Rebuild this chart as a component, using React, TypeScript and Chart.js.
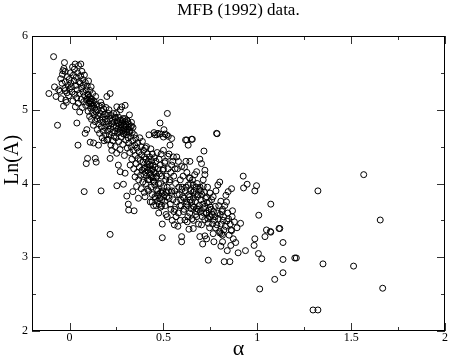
import React, { useEffect, useRef } from 'react';
import { Chart, registerables } from 'chart.js';

Chart.register(...registerables);

const chartTitle = 'MFB (1992) data.';
const xAxisTitle = 'α';
const yAxisTitle = 'Ln(A)';
const xMajorTicks = [0, 0.5, 1, 1.5, 2];
const xMinorTicks = [0.25, 0.75, 1.25, 1.75];
const yMajorTicks = [2, 3, 4, 5, 6];
const yMinorTicks = [2.5, 3.5, 4.5, 5.5];
const xMin = -0.2;
const xMax = 2;
const yMin = 2;
const yMax = 6;

// [alpha, Ln(A)] pairs
const bandLeft: [number, number][] = [
  [-0.110, 5.22], [-0.085, 5.72], [-0.080, 5.31], [-0.072, 5.18], [-0.064, 4.79], [-0.058, 5.27], [-0.050, 5.25],
  [-0.047, 5.42], [-0.045, 5.15], [-0.040, 5.36], [-0.038, 5.48], [-0.035, 5.53], [-0.032, 5.05], [-0.030, 5.56],
  [-0.027, 5.64], [-0.025, 5.29], [-0.023, 5.52], [-0.023, 5.26], [-0.022, 5.38], [-0.020, 5.13], [-0.017, 5.10],
  [-0.014, 5.23], [-0.012, 5.45], [-0.008, 5.33], [-0.005, 5.19], [-0.002, 5.41], [0.000, 5.28], [0.004, 5.50],
  [0.007, 5.36], [0.010, 5.31], [0.013, 5.24], [0.016, 5.58], [0.018, 5.12], [0.021, 5.47], [0.024, 5.39],
  [0.026, 5.55], [0.028, 5.21], [0.030, 5.62], [0.031, 5.04], [0.033, 5.33], [0.036, 5.44], [0.038, 5.16],
  [0.039, 4.82], [0.041, 5.27], [0.043, 5.50], [0.045, 4.52], [0.046, 5.09], [0.048, 5.60], [0.050, 5.38],
  [0.052, 5.22], [0.054, 4.97], [0.057, 5.36], [0.059, 5.46], [0.060, 5.62], [0.062, 5.14], [0.064, 5.29],
  [0.066, 5.52], [0.068, 5.03], [0.070, 5.41], [0.072, 5.24], [0.074, 5.33], [0.076, 5.11], [0.078, 3.89],
  [0.079, 5.47], [0.081, 5.19], [0.083, 4.68], [0.084, 5.37], [0.086, 5.06], [0.088, 5.27], [0.089, 4.27],
  [0.091, 5.14], [0.092, 4.73], [0.094, 5.32], [0.096, 4.34], [0.097, 5.21], [0.099, 4.98], [0.101, 5.39],
  [0.103, 5.09], [0.105, 5.17], [0.107, 4.91], [0.109, 5.26], [0.110, 4.56], [0.111, 5.11], [0.113, 5.02],
  [0.115, 5.31], [0.117, 4.87], [0.119, 5.14], [0.121, 4.96], [0.123, 5.22], [0.125, 5.06], [0.127, 4.79],
  [0.128, 4.55], [0.130, 5.12], [0.132, 4.93], [0.134, 5.02], [0.136, 4.84], [0.137, 4.34], [0.139, 5.18],
  [0.141, 4.97], [0.142, 4.29], [0.144, 5.07], [0.146, 4.88], [0.148, 4.73], [0.150, 5.00], [0.152, 4.92],
  [0.154, 4.52], [0.156, 4.81], [0.158, 5.05], [0.160, 4.68], [0.162, 4.95], [0.164, 4.86], [0.166, 5.10],
  [0.168, 3.90], [0.169, 4.77], [0.171, 4.99], [0.172, 5.06], [0.174, 4.62], [0.176, 4.90], [0.178, 4.83],
  [0.180, 4.71], [0.182, 5.01], [0.184, 4.58], [0.186, 4.94], [0.188, 4.76], [0.190, 4.87], [0.192, 4.66],
  [0.194, 5.03], [0.196, 4.80], [0.198, 4.92], [0.199, 4.59], [0.199, 5.18],
  [0.108, 5.12], [0.112, 5.08], [0.114, 5.15], [0.118, 5.05], [0.122, 5.10], [0.095, 5.15], [0.100, 5.20],
];

const bandUpperMid: [number, number][] = [
  [0.201, 4.84], [0.203, 4.71], [0.205, 4.60], [0.207, 4.95], [0.209, 4.78], [0.210, 5.00], [0.212, 4.66],
  [0.214, 4.88], [0.216, 5.22], [0.216, 4.34], [0.216, 3.31], [0.218, 4.74], [0.220, 4.52], [0.222, 4.92],
  [0.224, 4.81], [0.225, 4.45], [0.227, 4.69], [0.229, 4.86], [0.231, 4.58], [0.233, 4.77], [0.235, 4.95],
  [0.237, 4.64], [0.239, 4.83], [0.241, 4.71], [0.243, 4.50], [0.245, 4.89], [0.247, 4.62], [0.249, 4.78],
  [0.251, 4.41], [0.252, 5.04], [0.252, 3.97], [0.254, 4.85], [0.256, 4.68], [0.258, 4.74], [0.260, 4.25],
  [0.261, 4.90], [0.263, 4.57], [0.265, 4.80], [0.267, 4.70], [0.269, 4.46], [0.270, 5.00], [0.270, 4.16],
  [0.272, 4.86], [0.274, 4.76], [0.276, 4.63], [0.278, 5.04], [0.279, 4.82], [0.281, 4.72], [0.283, 4.53],
  [0.285, 4.88], [0.287, 3.99], [0.288, 4.67], [0.290, 4.79], [0.292, 4.38], [0.294, 4.84], [0.296, 5.06],
  [0.296, 4.14], [0.297, 4.71], [0.299, 4.59], [0.301, 4.80], [0.303, 4.66], [0.305, 3.83], [0.306, 4.86],
  [0.308, 4.48], [0.310, 4.74], [0.312, 4.62], [0.313, 3.72], [0.314, 4.81], [0.315, 3.64], [0.316, 4.55],
  [0.318, 4.70], [0.319, 4.93], [0.321, 4.42], [0.323, 4.25], [0.324, 4.77], [0.326, 4.64], [0.328, 4.50],
  [0.330, 4.83], [0.332, 4.33], [0.334, 4.69], [0.336, 4.58], [0.337, 3.89], [0.338, 4.76], [0.340, 4.45],
  [0.342, 4.20], [0.344, 3.63], [0.345, 4.66], [0.347, 4.52], [0.349, 4.09], [0.351, 4.38], [0.353, 4.61],
  [0.355, 4.27], [0.357, 3.96], [0.359, 4.48], [0.361, 4.15], [0.363, 4.55], [0.365, 4.34], [0.367, 3.80],
  [0.368, 4.05], [0.370, 4.43], [0.372, 4.22], [0.374, 4.62], [0.376, 4.31], [0.378, 4.11], [0.380, 4.50],
  [0.382, 3.93], [0.384, 4.39], [0.386, 4.18], [0.388, 4.57], [0.390, 4.02], [0.392, 4.29], [0.394, 4.45],
  [0.396, 4.12], [0.398, 3.88], [0.399, 4.36],
  [0.275, 4.79], [0.282, 4.85], [0.290, 4.74], [0.300, 4.77], [0.310, 4.84], [0.320, 4.72], [0.330, 4.78],
  [0.285, 4.68], [0.295, 4.88], [0.305, 4.70], [0.315, 4.76], [0.270, 4.72], [0.260, 4.82], [0.250, 4.95],
  [0.240, 4.90],
];

const bandLowerMid: [number, number][] = [
  [0.401, 4.21], [0.402, 3.82], [0.404, 4.48], [0.406, 4.00], [0.408, 4.33], [0.410, 4.50], [0.411, 4.10],
  [0.413, 4.27], [0.415, 4.40], [0.416, 3.92], [0.418, 4.18], [0.420, 4.30], [0.421, 3.90], [0.423, 4.66],
  [0.424, 4.05], [0.426, 4.36], [0.428, 4.14], [0.430, 3.75], [0.431, 4.24], [0.433, 4.47], [0.435, 3.95],
  [0.436, 4.09], [0.438, 4.31], [0.440, 3.85], [0.441, 4.40], [0.443, 4.19], [0.445, 4.25], [0.446, 4.03],
  [0.448, 3.70], [0.450, 4.69], [0.450, 4.15], [0.452, 4.35], [0.454, 3.98], [0.455, 4.66], [0.456, 4.22],
  [0.458, 3.80], [0.460, 4.30], [0.461, 4.08], [0.463, 3.92], [0.464, 4.66], [0.465, 4.10], [0.467, 4.42],
  [0.469, 3.76], [0.470, 3.90], [0.471, 4.68], [0.472, 4.20], [0.474, 4.00], [0.475, 3.60], [0.477, 4.33],
  [0.479, 4.13], [0.480, 3.80], [0.482, 4.67], [0.482, 4.82], [0.483, 4.25], [0.485, 4.00], [0.486, 3.68],
  [0.488, 4.40], [0.490, 3.70], [0.491, 4.10], [0.493, 3.87], [0.494, 3.45], [0.494, 3.265], [0.495, 3.90],
  [0.497, 4.18], [0.500, 4.63], [0.500, 4.45], [0.500, 4.20], [0.502, 3.96], [0.503, 4.73], [0.505, 3.85],
  [0.507, 4.28], [0.508, 4.67], [0.510, 4.30], [0.510, 3.70], [0.512, 4.05], [0.514, 3.58], [0.515, 4.10],
  [0.517, 4.66], [0.518, 3.82], [0.520, 3.95], [0.520, 3.55], [0.521, 4.95], [0.523, 4.37], [0.525, 4.20],
  [0.526, 4.64], [0.527, 3.90], [0.530, 3.80], [0.530, 4.40], [0.532, 4.02], [0.535, 4.52], [0.535, 4.05],
  [0.537, 3.72], [0.540, 3.65], [0.540, 4.15], [0.542, 3.88], [0.544, 4.61], [0.544, 4.25], [0.545, 3.90],
  [0.547, 3.50], [0.550, 4.30], [0.551, 3.78], [0.553, 4.36], [0.555, 4.10], [0.556, 3.62], [0.558, 3.44],
  [0.560, 3.90], [0.560, 3.65], [0.562, 4.20], [0.565, 4.00], [0.567, 3.55], [0.570, 3.75], [0.571, 4.36],
  [0.573, 3.85], [0.575, 4.20], [0.577, 3.42], [0.580, 3.60], [0.580, 4.30], [0.582, 3.95], [0.585, 3.85],
  [0.587, 3.70], [0.590, 4.05], [0.590, 3.50], [0.592, 3.78], [0.595, 3.70], [0.597, 4.23], [0.597, 3.28],
  [0.597, 3.21], [0.598, 3.92], [0.600, 3.95],
  [0.395, 4.20], [0.405, 4.15], [0.412, 4.22], [0.418, 4.05], [0.425, 4.26], [0.432, 4.12], [0.438, 4.18],
  [0.445, 4.08], [0.452, 4.02], [0.458, 4.14], [0.440, 3.75], [0.455, 3.82], [0.462, 3.70], [0.470, 3.85],
  [0.478, 3.72], [0.485, 3.88], [0.492, 3.78], [0.500, 3.82], [0.508, 3.76], [0.515, 3.88],
];

const bandRight: [number, number][] = [
  [0.603, 3.82], [0.605, 4.10], [0.607, 3.62], [0.610, 3.80], [0.612, 4.22], [0.615, 3.505], [0.617, 3.90],
  [0.618, 4.59], [0.620, 3.95], [0.620, 4.30], [0.622, 3.72], [0.624, 4.59], [0.625, 4.15], [0.627, 3.48],
  [0.630, 3.70], [0.630, 3.55], [0.632, 4.52], [0.633, 3.98], [0.635, 3.85], [0.636, 3.38], [0.638, 4.08],
  [0.640, 3.60], [0.641, 4.30], [0.641, 4.07], [0.643, 3.78], [0.645, 4.00], [0.645, 3.90], [0.647, 3.66],
  [0.650, 3.75], [0.650, 4.60], [0.652, 3.52], [0.654, 4.60], [0.655, 4.05], [0.657, 3.88], [0.659, 3.39],
  [0.659, 3.98], [0.660, 3.80], [0.660, 3.50], [0.663, 3.68], [0.665, 3.90], [0.667, 4.12], [0.670, 3.75],
  [0.672, 3.58], [0.675, 3.95], [0.677, 4.16], [0.677, 3.62], [0.677, 3.66], [0.677, 3.55], [0.680, 4.00],
  [0.682, 3.82], [0.685, 3.85], [0.687, 3.45], [0.690, 3.70], [0.692, 3.92], [0.694, 4.33], [0.694, 3.28],
  [0.695, 3.95], [0.697, 3.62], [0.700, 3.78], [0.703, 4.27], [0.703, 3.44], [0.705, 3.85], [0.707, 3.55],
  [0.709, 3.18], [0.710, 3.72], [0.712, 3.96], [0.712, 4.05], [0.714, 3.66], [0.716, 4.44], [0.718, 3.88],
  [0.720, 3.51], [0.721, 4.18], [0.721, 4.12], [0.721, 3.69], [0.721, 3.29], [0.724, 3.80], [0.727, 3.60],
  [0.730, 3.25], [0.730, 3.60], [0.733, 3.74], [0.735, 3.95], [0.737, 3.52], [0.739, 3.46], [0.739, 2.96],
  [0.742, 3.64], [0.744, 3.75], [0.746, 3.40], [0.748, 3.87], [0.750, 3.68], [0.752, 3.55], [0.755, 3.65],
  [0.757, 3.78], [0.760, 3.58], [0.762, 3.45], [0.765, 3.82], [0.765, 3.32], [0.767, 3.62], [0.769, 3.21],
  [0.772, 3.50], [0.775, 3.55], [0.776, 3.69], [0.778, 3.40], [0.780, 3.90], [0.783, 4.68], [0.785, 3.44],
  [0.786, 4.675], [0.788, 3.60], [0.790, 3.98], [0.792, 3.52], [0.795, 3.70], [0.800, 4.02], [0.800, 3.35],
  [0.800, 3.33], [0.803, 3.58], [0.806, 3.76], [0.806, 3.15], [0.808, 3.45], [0.810, 3.32], [0.812, 3.62],
  [0.815, 3.65], [0.815, 3.30], [0.815, 3.21], [0.818, 3.50], [0.820, 3.55], [0.822, 3.37], [0.824, 2.94],
  [0.827, 3.70], [0.830, 3.42], [0.833, 3.84], [0.836, 3.75], [0.838, 3.49], [0.840, 3.09], [0.843, 3.60],
  [0.845, 3.89], [0.847, 3.52], [0.850, 3.30], [0.854, 2.94], [0.856, 3.45], [0.859, 3.16], [0.861, 3.37],
  [0.863, 3.36], [0.863, 3.93], [0.866, 3.55], [0.868, 3.63], [0.872, 3.25], [0.878, 3.48], [0.885, 3.20],
  [0.892, 3.40], [0.898, 3.06],
  [0.610, 3.65], [0.625, 3.75], [0.640, 3.82], [0.655, 3.70], [0.670, 3.85], [0.685, 3.65], [0.700, 3.90],
  [0.715, 3.60], [0.730, 3.82], [0.745, 3.55],
];

const tail: [number, number][] = [
  [0.911, 3.46], [0.925, 4.10], [0.927, 3.94], [0.937, 3.09], [0.946, 3.99], [0.983, 3.16], [0.987, 3.25],
  [0.987, 3.90], [0.996, 3.97], [1.006, 3.05], [1.008, 3.57], [1.013, 2.57], [1.024, 2.98], [1.041, 3.28],
  [1.049, 3.37], [1.070, 3.35], [1.072, 3.34], [1.072, 3.72], [1.093, 2.70], [1.116, 3.39], [1.120, 3.39],
  [1.137, 3.20], [1.137, 2.97], [1.137, 2.79], [1.200, 2.99], [1.208, 2.99], [1.297, 2.285], [1.323, 2.285],
  [1.323, 3.90], [1.350, 2.91], [1.513, 2.88], [1.567, 4.12], [1.655, 3.505], [1.668, 2.58],
];

const allPairs = [...bandLeft, ...bandUpperMid, ...bandLowerMid, ...bandRight, ...tail];

const serif = 'Liberation Serif';

const frameTicksPlugin = {
  id: 'frameTicks',
  afterDatasetsDraw(chart: any) {
    const { ctx, chartArea, scales } = chart;
    const { left, right, top, bottom } = chartArea;
    const xs = scales.x;
    const ys = scales.y;
    ctx.save();
    ctx.lineWidth = 1;
    ctx.strokeStyle = '#333';
    const major = 8;
    const minor = 4;
    const hTick = (v: number, len: number) => {
      const px = Math.round(xs.getPixelForValue(v)) + 0.5;
      ctx.beginPath();
      ctx.moveTo(px, bottom);
      ctx.lineTo(px, bottom - len);
      ctx.moveTo(px, top);
      ctx.lineTo(px, top + len);
      ctx.stroke();
    };
    const vTick = (v: number, len: number) => {
      const py = Math.round(ys.getPixelForValue(v)) + 0.5;
      ctx.beginPath();
      ctx.moveTo(left, py);
      ctx.lineTo(left + len, py);
      ctx.moveTo(right, py);
      ctx.lineTo(right - len, py);
      ctx.stroke();
    };
    xMajorTicks.forEach((v) => hTick(v, major));
    xMinorTicks.forEach((v) => hTick(v, minor));
    yMajorTicks.forEach((v) => vTick(v, major));
    yMinorTicks.forEach((v) => vTick(v, minor));
    ctx.strokeStyle = '#000';
    ctx.strokeRect(Math.round(left) + 0.5, Math.round(top) + 0.5, Math.round(right - left) - 1, Math.round(bottom - top) - 1);

    // y axis title, placed a little above the axis middle as in the original
    ctx.fillStyle = '#000';
    ctx.font = `20px "${serif}"`;
    ctx.textAlign = 'center';
    ctx.textBaseline = 'middle';
    ctx.translate(13, top + (bottom - top) * 0.42);
    ctx.rotate(-Math.PI / 2);
    ctx.fillText(yAxisTitle, 0, 0);
    ctx.restore();
  },
};

export default function App() {
  const canvasRef = useRef<HTMLCanvasElement | null>(null);

  useEffect(() => {
    const canvas = canvasRef.current;
    if (!canvas) return;
    const chart = new Chart(canvas, {
      type: 'scatter',
      data: {
        datasets: [
          {
            data: allPairs.map(([a, l]) => ({ x: a, y: l })),
            pointStyle: 'circle',
            pointRadius: 3,
            pointBorderWidth: 1,
            pointBorderColor: '#000',
            pointBackgroundColor: 'rgba(0,0,0,0)',
            showLine: false,
          },
        ],
      },
      options: {
        animation: false,
        responsive: false,
        devicePixelRatio: 1,
        layout: { padding: { left: 0, right: 5, top: 0, bottom: 0 } },
        plugins: {
          legend: { display: false },
          tooltip: { enabled: false },
          title: {
            display: true,
            fullSize: false,
            text: chartTitle,
            color: '#000',
            font: { family: serif, size: 17, weight: 'normal', lineHeight: 1.2 },
            padding: { top: 0, bottom: 15.6 },
          },
        },
        scales: {
          x: {
            type: 'linear',
            min: xMin,
            max: xMax,
            afterBuildTicks: (scale: any) => {
              scale.ticks = xMajorTicks.map((v) => ({ value: v }));
            },
            afterFit: (scale: any) => {
              scale.height = 28;
            },
            grid: { display: false, drawTicks: false },
            border: { display: false },
            ticks: {
              color: '#000',
              font: { family: serif, size: 12, lineHeight: 1.1 },
              padding: 0,
              maxRotation: 0,
              autoSkip: false,
              callback: (v: any) => String(v),
            },
            title: {
              display: true,
              text: xAxisTitle,
              color: '#000',
              font: { family: serif, size: 22, lineHeight: 0.9 },
              padding: 0,
            },
          },
          y: {
            type: 'linear',
            min: yMin,
            max: yMax,
            afterBuildTicks: (scale: any) => {
              scale.ticks = yMajorTicks.map((v) => ({ value: v }));
            },
            afterFit: (scale: any) => {
              scale.width = 32;
            },
            grid: { display: false, drawTicks: false },
            border: { display: false },
            ticks: {
              color: '#000',
              font: { family: serif, size: 12 },
              padding: 4,
              autoSkip: false,
              callback: (v: any) => String(v),
            },
            title: { display: false },
          },
        },
      },
      plugins: [frameTicksPlugin],
    });
    return () => chart.destroy();
  }, []);

  return (
    <div style={{ position: 'fixed', left: 0, top: 0, width: 450, height: 359, background: '#fff' }}>
      <canvas ref={canvasRef} width={450} height={359} />
    </div>
  );
}
